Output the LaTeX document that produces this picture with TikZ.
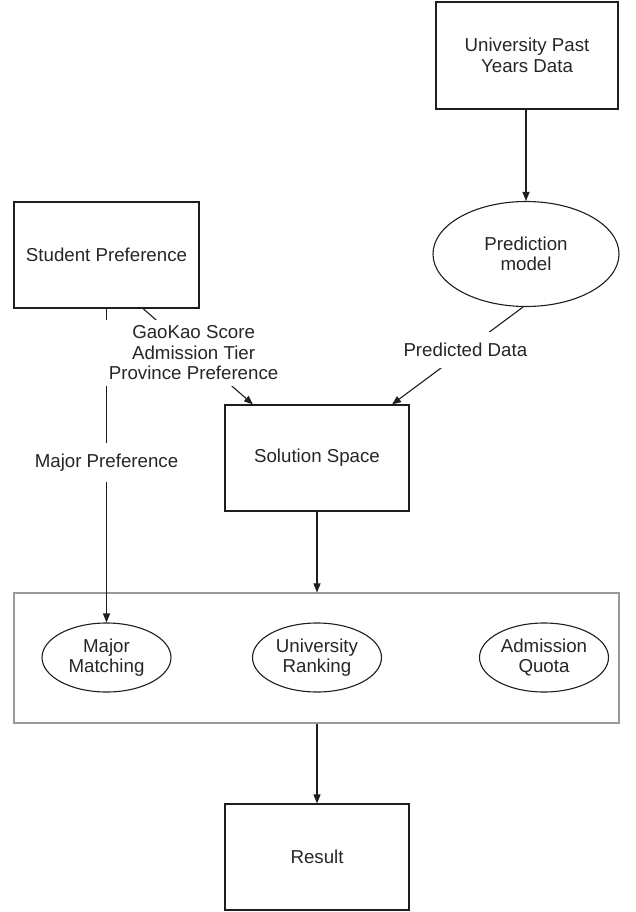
\documentclass[tikz,border=0pt]{standalone}
\usepackage{fontspec}
\setmainfont{Liberation Sans}
\usetikzlibrary{shapes.geometric,arrows.meta}
\definecolor{ink}{HTML}{1E1E1E}
\definecolor{txt}{HTML}{262626}
\definecolor{frame}{HTML}{9A9A9A}
\begin{document}
\begin{tikzpicture}[x=1pt,y=-1pt,
  every node/.style={font=\fontsize{18.7}{20.5}\selectfont, text=txt},
  box/.style={draw=ink, line width=1.1pt, minimum width=184pt, minimum height=106pt, inner sep=0pt, align=center},
  oval/.style={draw=ink, line width=1.1pt, ellipse, inner sep=0pt, align=center},
  smalloval/.style={oval, minimum width=129pt, minimum height=69pt},
  conn/.style={draw=ink, line width=1.1pt, -{Triangle[length=9pt,width=7pt]}},
  lab/.style={fill=white, align=center, inner xsep=3pt}]
\path[use as bounding box] (0,0) rectangle (636,912);

\node[box, minimum width=182pt, minimum height=107pt] (upyd) at (527,55.5) {University Past\\Years Data};
\node[oval, minimum width=186pt, minimum height=105pt] (pred) at (526,254) {Prediction\\model};
\node[box, minimum width=185pt] (stud) at (106.5,255) {Student Preference};
\node[box] (sol) at (317,458) {Solution Space};
\node[draw=frame, line width=1.1pt, minimum width=605pt, minimum height=130pt, inner sep=0pt] (grp) at (316.5,658) {};
\node[smalloval] (mm) at (106.5,657.5) {Major\\Matching};
\node[smalloval] (ur) at (317,657.5) {University\\Ranking};
\node[smalloval] (aq) at (544,657.5) {Admission\\Quota};
\node[box] (res) at (317,857) {Result};

\draw[conn] (upyd.south -| pred.north) -- (pred.north);
\draw[conn] (stud.south) -- node[lab, minimum height=39pt, pos=0.49] {Major Preference} (mm.north);
\draw[conn] ([xshift=36.5pt]stud.south) -- node[lab, inner ysep=6pt, pos=0.46] {GaoKao Score\\Admission Tier\\Province Preference} ([xshift=-64pt]sol.north);
\draw[conn] ([xshift=-3pt]pred.south) -- node[lab, minimum height=36pt, pos=0.44] {Predicted Data} ([xshift=75pt]sol.north);
\draw[conn] (sol.south) -- (sol.south |- grp.north);
\draw[conn] (grp.south -| res.north) -- (res.north);
\end{tikzpicture}
\end{document}
